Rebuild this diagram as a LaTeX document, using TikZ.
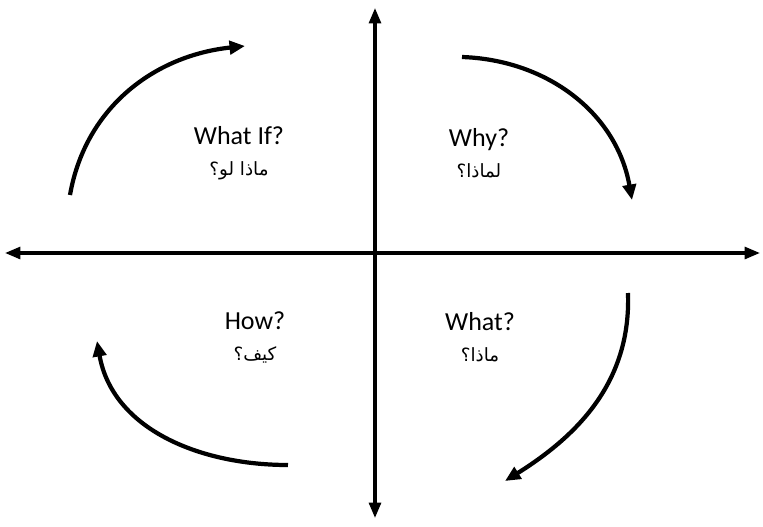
\documentclass[tikz,border=0pt]{standalone}
\usepackage{fontspec}
\setmainfont{Carlito}
\newfontfamily\arfont[Script=Arabic]{DejaVu Sans}
\TeXXeTstate=1
\usetikzlibrary{arrows.meta}

\newcommand{\ar}[1]{{\arfont\fontsize{13}{15}\selectfont\beginR #1\endR}}

\begin{document}
\begin{tikzpicture}[
    axis/.style={{Triangle[length=11pt,width=8.5pt]}-{Triangle[length=11pt,width=8.5pt]},line width=2.3pt},
    turn/.style={-{Triangle[length=11pt,width=9.5pt]},line width=3pt},
    quad/.style={align=center,font=\fontsize{18.5}{22}\selectfont,inner sep=0pt}
  ]
    \useasboundingbox (-9.375,-6.825) rectangle (9.7,6.325);
    % axes
    \coordinate (top) at (0,6.125);
    \coordinate (bottom) at (0,-6.625);
    \coordinate (left) at (-9.25,0);
    \coordinate (right) at (9.625,0);
    \draw[axis] (bottom)--(top);
    \draw[axis] (left)--(right);
    % quadrant labels
    \node[quad] (whatif) at (-3.4,2.5) {What If?\\\ar{ماذا لو؟}};
    \node[quad] (why) at (2.6,2.5) {Why?\\\ar{لماذا؟}};
    \node[quad] (how) at (-3.0,-2.1) {How?\\\ar{كيف؟}};
    \node[quad] (what) at (2.625,-2.1) {What?\\\ar{ماذا؟}};
    % turning arrows
    \coordinate (tlA) at (-7.625,1.45);
    \coordinate (tlB) at (-3.25,5.175);
    \coordinate (trA) at (2.175,4.9);
    \coordinate (trB) at (6.425,1.325);
    \coordinate (brA) at (6.325,-1.0);
    \coordinate (brB) at (3.25,-5.7);
    \coordinate (blA) at (-2.175,-5.3);
    \coordinate (blB) at (-6.95,-2.2);
    \draw[turn] (tlA) to[out=80,in=186] (tlB);
    \draw[turn] (trA) to[out=-2,in=100] (trB);
    \draw[turn] (brA) to[out=-88,in=32] (brB);
    \draw[turn] (blA) to[out=180,in=-80] (blB);
\end{tikzpicture}
\end{document}
